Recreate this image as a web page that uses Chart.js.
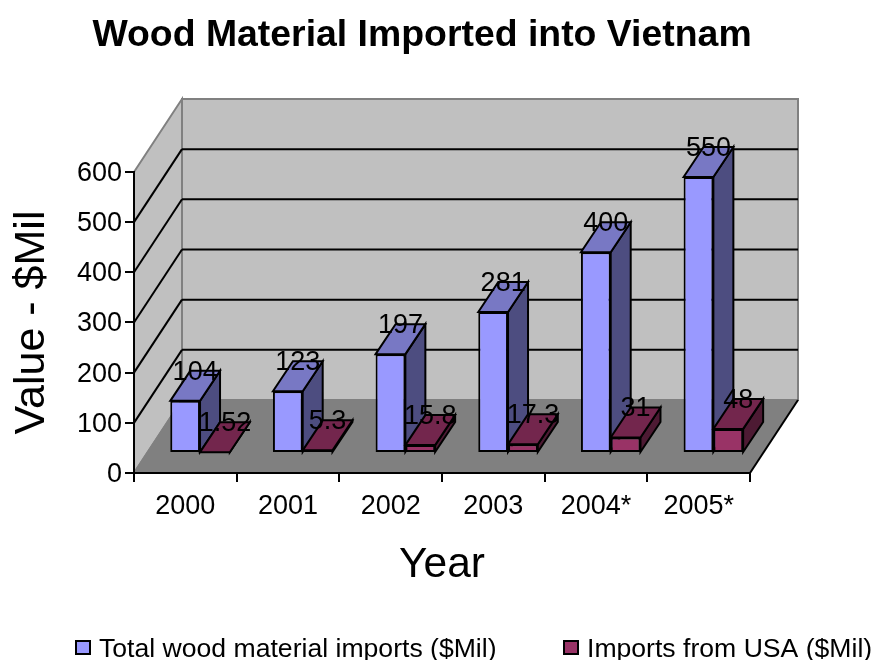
<!DOCTYPE html>
<html>
<head>
<meta charset="utf-8">
<title>Wood Material Imported into Vietnam</title>
<script src="https://cdn.jsdelivr.net/npm/chart.js@4"></script>
<style>
  html, body { margin: 0; padding: 0; background: #fff; overflow: hidden; }
  canvas { display: block; }
</style>
</head>
<body>
<canvas id="woodChart" width="874" height="660"></canvas>
<script>
const years = ['2000', '2001', '2002', '2003', '2004*', '2005*'];
const totalImports = [104, 123, 197, 281, 400, 550];
const usaImports = [1.52, 5.3, 15.8, 17.3, 31, 48];
const seriesNames = ['Total wood material imports ($Mil)', 'Imports from USA ($Mil)'];
const yTicks = [0, 100, 200, 300, 400, 500, 600];

const FONT = '"Liberation Sans", Arial, sans-serif';

// how far the back wall sits behind the axes
const WALL_DX = 48;
const WALL_DY = -73;
// where the bars stand on the floor, relative to the axes
const BAR_DX = 14.7;
const BAR_DY = -20;
// depth of one bar
const BAR_DEPTH_X = 20;
const BAR_DEPTH_Y = -30;

const faceColors = [
  { side: '#4d4d80', top: '#7878c4' },
  { side: '#4d1a33', top: '#73264d' }
];

function poly(ctx, pts, fill, stroke) {
  ctx.beginPath();
  pts.forEach((p, i) => i ? ctx.lineTo(p[0], p[1]) : ctx.moveTo(p[0], p[1]));
  ctx.closePath();
  if (fill) {
    ctx.fillStyle = fill;
    ctx.fill();
  }
  if (stroke) {
    ctx.strokeStyle = stroke;
    ctx.stroke();
  }
}

function line(ctx, x1, y1, x2, y2, color) {
  ctx.beginPath();
  ctx.moveTo(x1, y1);
  ctx.lineTo(x2, y2);
  ctx.strokeStyle = color;
  ctx.stroke();
}

// Walls and floor behind the axes
const wallsPlugin = {
  id: 'walls',
  afterLayout(chart) {
    // title is centred a bit right of the plot, not over it
    chart.titleBlock.left = 0;
    chart.titleBlock.right = 844;
  },
  beforeDraw(chart) {
    const ctx = chart.ctx;
    const { left, right, top, bottom } = chart.chartArea;
    const bl = left + WALL_DX, br = right + WALL_DX;
    const bt = top + WALL_DY, bb = bottom + WALL_DY;
    const y = chart.scales.y;

    ctx.save();
    ctx.lineWidth = 2;
    poly(ctx, [[left, bottom], [left, top], [bl, bt], [bl, bb]], '#c0c0c0', '#808080');
    poly(ctx, [[bl, bt], [br, bt], [br, bb], [bl, bb]], '#c0c0c0', '#808080');
    poly(ctx, [[left, bottom], [bl, bb], [br, bb], [right, bottom]], '#808080');
    line(ctx, left, bottom, bl, bb, '#808080');
    line(ctx, right, bottom, br, bb, '#000');

    yTicks.slice(1, -1).forEach(v => {
      const py = y.getPixelForValue(v);
      line(ctx, left, py, bl, py + WALL_DY, '#000');
      line(ctx, bl, py + WALL_DY, br, py + WALL_DY, '#000');
    });
    ctx.restore();
  }
};

// Moves the flat bars onto the floor and adds their side and top faces.
// Default drawing goes last dataset first, here the USA bars must land on top.
const bars3dPlugin = {
  id: 'bars3d',
  beforeDatasetDraw() {
    return false;
  },
  afterDatasetsDraw(chart) {
    const ctx = chart.ctx;
    ctx.save();
    ctx.translate(BAR_DX, BAR_DY);
    ctx.lineWidth = 2;

    chart.data.datasets.forEach((ds, i) => {
      const meta = chart.getDatasetMeta(i);
      const colors = faceColors[i];
      meta.controller.draw();
      meta.data.forEach(bar => {
        const x0 = bar.x - bar.width / 2, x1 = bar.x + bar.width / 2;
        poly(ctx, [[x1, bar.y], [x1 + BAR_DEPTH_X, bar.y + BAR_DEPTH_Y],
          [x1 + BAR_DEPTH_X, bar.base + BAR_DEPTH_Y], [x1, bar.base]], colors.side, '#000');
        poly(ctx, [[x0, bar.y], [x0 + BAR_DEPTH_X, bar.y + BAR_DEPTH_Y],
          [x1 + BAR_DEPTH_X, bar.y + BAR_DEPTH_Y], [x1, bar.y]], colors.top, '#000');
      });
    });

    // value labels float at the back edge of each bar top
    ctx.fillStyle = '#000';
    ctx.font = '27px ' + FONT;
    ctx.textAlign = 'center';
    ctx.textBaseline = 'middle';
    chart.data.datasets.forEach((ds, i) => {
      chart.getDatasetMeta(i).data.forEach((bar, j) => {
        ctx.fillText(String(ds.data[j]), bar.x + BAR_DEPTH_X / 2, bar.y + BAR_DEPTH_Y + 1.5);
      });
    });
    ctx.restore();
  }
};

// Legend drawn by hand, the default one cannot space its two items this wide
const legendPlugin = {
  id: 'bottomLegend',
  afterDraw(chart) {
    const ctx = chart.ctx;
    const boxX = [76, 564];
    ctx.save();
    ctx.font = '26.6px ' + FONT;
    ctx.textAlign = 'left';
    ctx.textBaseline = 'alphabetic';
    ctx.lineWidth = 2;
    chart.data.datasets.forEach((ds, i) => {
      ctx.fillStyle = ds.backgroundColor;
      ctx.strokeStyle = '#000';
      ctx.fillRect(boxX[i], 641, 14, 13);
      ctx.strokeRect(boxX[i], 641, 14, 13);
      ctx.fillStyle = '#000';
      ctx.fillText(ds.label, boxX[i] + 23, 657);
    });
    ctx.restore();
  }
};

new Chart(document.getElementById('woodChart'), {
  type: 'bar',
  data: {
    labels: years,
    datasets: [
      { label: seriesNames[0], data: totalImports, backgroundColor: '#9999ff' },
      { label: seriesNames[1], data: usaImports, backgroundColor: '#993366' }
    ]
  },
  plugins: [wallsPlugin, bars3dPlugin, legendPlugin],
  options: {
    responsive: false,
    animation: false,
    devicePixelRatio: 1,
    layout: { padding: { left: 0, right: 124, top: 0, bottom: 0 } },
    datasets: {
      bar: {
        categoryPercentage: 0.58,
        barPercentage: 1,
        borderColor: '#000',
        borderWidth: 2,
        borderSkipped: false,
        clip: false
      }
    },
    plugins: {
      legend: { display: false },
      tooltip: { enabled: false },
      title: {
        display: true,
        text: 'Wood Material Imported into Vietnam',
        color: '#000',
        font: { family: FONT, size: 37.4, weight: 'bold' },
        padding: { top: 13, bottom: 114.1 }
      }
    },
    scales: {
      x: {
        afterFit: scale => { scale.height = 187; },
        title: {
          display: true,
          text: 'Year',
          color: '#000',
          font: { family: FONT, size: 42.5 },
          padding: { top: 0, bottom: 69.5 }
        },
        ticks: { color: '#000', font: { family: FONT, size: 27 }, padding: 8, maxRotation: 0 },
        grid: { drawOnChartArea: false, color: '#000', tickColor: '#000', tickLength: 9, lineWidth: 2 },
        border: { color: '#000', width: 2 }
      },
      y: {
        min: 0,
        max: 600,
        afterFit: scale => { scale.width = 134; },
        afterBuildTicks: scale => { scale.ticks = yTicks.map(v => ({ value: v })); },
        title: {
          display: true,
          text: 'Value - $Mil',
          color: '#000',
          font: { family: FONT, size: 43 },
          padding: { top: 6.5, bottom: 0 }
        },
        ticks: { color: '#000', font: { family: FONT, size: 27 }, padding: 3, labelOffset: 1.5 },
        grid: { drawOnChartArea: false, color: '#000', tickColor: '#000', tickLength: 9, lineWidth: 2 },
        border: { color: '#000', width: 2 }
      }
    }
  }
});
</script>
</body>
</html>
